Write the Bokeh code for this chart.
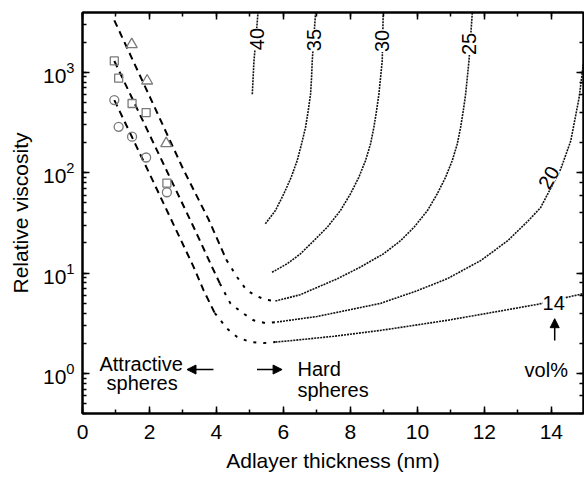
from bokeh.plotting import figure
from bokeh.models import (Range1d, LinearAxis, LogAxis, SingleIntervalTicker, LogTicker,
                          ColumnDataSource, LabelSet, Arrow, NormalHead)
from bokeh.core.properties import value
from bokeh.embed import file_html
from bokeh.resources import INLINE

FONT = "Liberation Sans"

# ---- attractive-sphere curves (dashed, then sparse dots) ----
hi_dash_x = [0.95, 2.0, 3.0, 3.77, 4.3]
hi_dash_y = [3300, 580, 110, 34, 13.5]
hi_dot_x = [4.3, 4.62, 4.91, 5.21, 5.46, 5.76]
hi_dot_y = [13.5, 9.1, 6.7, 5.9, 5.44, 5.27]

mid_dash_x = [0.95, 2.0, 3.32, 3.87, 4.1]
mid_dash_y = [1300, 240, 28.7, 11.5, 7.9]
mid_dot_x = [4.1, 4.42, 4.81, 5.11, 5.46, 5.81]
mid_dot_y = [7.9, 4.97, 3.95, 3.39, 3.18, 3.26]

lo_dash_x = [0.95, 2.0, 3.32, 3.62, 3.95]
lo_dash_y = [530, 98, 11.5, 6.7, 4.0]
lo_dot_x = [3.95, 4.32, 4.62, 5.01, 5.41, 5.76]
lo_dot_y = [4.0, 2.8, 2.31, 2.06, 2.01, 2.06]

# ---- hard-sphere iso-concentration curves (vol%) ----
c14_x = [5.76, 6.0, 7.5, 8.9, 10.89, 12.3, 13.59, 14.49, 15.0]
c14_y = [2.06, 2.09, 2.35, 2.69, 3.39, 4.1, 4.89, 5.77, 6.3]
c20_x = [5.81, 7.0, 8.9, 10.0, 10.89, 11.9, 12.7, 13.3, 13.68, 14.28, 14.58, 14.83, 14.96]
c20_y = [3.26, 3.7, 5.0, 6.7, 8.8, 13.4, 21.1, 33, 45, 109, 208, 562, 1250]
c25_x = [5.76, 6.5, 7.61, 8.30, 8.99, 9.50, 9.9, 10.30, 10.59, 10.84, 11.04, 11.19, 11.29,
         11.37, 11.44, 11.49, 11.54, 11.64]
c25_y = [5.27, 6.1, 8.8, 11.5, 15.6, 21.1, 28.7, 42, 61.5, 90, 132, 193, 283,
         414, 607, 888, 1300, 3945]
c30_x = [5.66, 6.11, 6.51, 6.91, 7.31, 7.70, 8.0, 8.25, 8.45, 8.60, 8.70, 8.78, 8.85, 8.95, 8.98]
c30_y = [10.2, 12.4, 15.6, 21.1, 28.7, 42, 61.5, 90, 132, 193, 283, 414, 607, 1300, 3945]
c35_x = [5.46, 5.76, 6.01, 6.23, 6.41, 6.54, 6.66, 6.74, 6.81, 6.84, 6.86, 6.96]
c35_y = [31, 42, 61.5, 90, 132, 193, 283, 414, 607, 888, 1300, 3945]
c40_x = [5.07, 5.12, 5.17, 5.24]
c40_y = [605, 1300, 2000, 3945]

# ---- measured points ----
tri_x = [1.47, 1.93, 2.50]
tri_y = [1900, 824, 196]
sq_x = [0.95, 1.08, 1.48, 1.90, 2.52]
sq_y = [1300, 876, 490, 398, 79]
circ_x = [0.95, 1.08, 1.48, 1.90, 2.52]
circ_y = [530, 287, 229, 142, 64]

# ---- curve labels ----
lab_text = ["40", "35", "30", "25", "20", "14"]
lab_x = [5.21, 6.90, 8.95, 11.54, 13.92, 14.07]
lab_y = [2150, 2100, 2056, 1920, 89.5, 5.06]
lab_angle = [90, 90, 90, 90, 60, 0]

# ---- annotations ----
ann_text = ["Attractive", "spheres"]
ann_x = [1.75, 1.78]
ann_y = [1.257, 0.796]
ann2_text = ["Hard", "spheres", "vol%"]
ann2_x = [6.42, 6.42, 13.2]
ann2_y = [1.12, 0.682, 1.096]

arr_x0 = [3.91, 5.21, 14.1]
arr_x1 = [3.12, 5.96, 14.1]
arr_y0 = [1.096, 1.096, 2.14]
arr_y1 = [1.096, 1.096, 3.52]

p = figure(width=584, height=479, x_range=Range1d(0, 14.96), y_range=Range1d(0.4, 3950),
           y_axis_type="log", output_backend="svg", toolbar_location=None,
           min_border_left=82, min_border_right=1, min_border_top=12, min_border_bottom=66,
           background_fill_color="white", border_fill_color="white")
p.xgrid.visible = False
p.ygrid.visible = False
p.outline_line_color = "black"
p.outline_line_width = 2

def style_axis(ax, labels=True):
    ax.axis_line_width = 2
    ax.axis_line_color = "black"
    ax.major_tick_in = 7
    ax.major_tick_out = 0
    ax.minor_tick_in = 4
    ax.minor_tick_out = 0
    ax.major_tick_line_width = 1.5
    ax.minor_tick_line_width = 1.5
    ax.major_tick_line_color = "black"
    ax.minor_tick_line_color = "black"
    if labels:
        ax.major_label_text_font = FONT
        ax.major_label_text_font_size = "21px"
        ax.major_label_text_color = "black"
        ax.axis_label_text_font = FONT
        ax.axis_label_text_font_size = "21px"
        ax.axis_label_text_font_style = "normal"
        ax.axis_label_text_color = "black"
    else:
        ax.major_label_text_font_size = "1px"
        ax.major_label_text_color = None
        ax.major_label_standoff = 0
        ax.axis_label = None

xt = SingleIntervalTicker(interval=2, num_minor_ticks=2)
xa = p.xaxis[0]
xa.ticker = xt
xa.axis_label = "Adlayer thickness (nm)"
style_axis(xa)
xa.major_label_standoff = 11
xa.axis_label_standoff = 7

ya = p.yaxis[0]
ya.axis_label = "Relative viscosity"
style_axis(ya)
ya.major_label_standoff = 8
ya.axis_label_standoff = 8

top = LinearAxis(ticker=SingleIntervalTicker(interval=2, num_minor_ticks=2))
style_axis(top, labels=False)
p.add_layout(top, "above")
right = LogAxis(ticker=LogTicker())
style_axis(right, labels=False)
p.add_layout(right, "right")

# dashed attractive-sphere fits
for xs, ys in [(hi_dash_x, hi_dash_y), (mid_dash_x, mid_dash_y), (lo_dash_x, lo_dash_y)]:
    p.line(xs, ys, line_color="black", line_width=2, line_dash="7 5")
for xs, ys in [(hi_dot_x, hi_dot_y), (mid_dot_x, mid_dot_y), (lo_dot_x, lo_dot_y)]:
    p.line(xs, ys, line_color="black", line_width=2, line_dash="3 7")

for xs, ys in [(c14_x, c14_y), (c20_x, c20_y), (c25_x, c25_y), (c30_x, c30_y),
               (c35_x, c35_y), (c40_x, c40_y)]:
    p.line(xs, ys, line_color="#111111", line_width=1.6, line_dash="2 1")

grey = "#7a7a7a"
p.scatter(tri_x, tri_y, marker="triangle", size=11, line_color=grey, fill_alpha=0, line_width=1.3)
p.scatter(sq_x, sq_y, marker="square", size=8, line_color=grey, fill_alpha=0, line_width=1.3)
p.scatter(circ_x, circ_y, marker="circle", size=9, line_color=grey, fill_alpha=0, line_width=1.3)

lab_src = ColumnDataSource(dict(x=lab_x, y=lab_y, text=lab_text, angle=lab_angle))
p.add_layout(LabelSet(x="x", y="y", text="text", angle="angle", angle_units="deg", source=lab_src,
                      text_align="center", text_baseline="middle", text_font=value(FONT),
                      text_font_size="20px", text_color="black",
                      background_fill_color="white"))

p.text(ann_x, ann_y, text=ann_text, text_align="center", text_baseline="alphabetic",
       text_font=value(FONT), text_font_size="20px", text_color="black")
p.text(ann2_x, ann2_y, text=ann2_text, text_align="left", text_baseline="alphabetic",
       text_font=value(FONT), text_font_size="20px", text_color="black")

arr_src = ColumnDataSource(dict(x0=arr_x0, y0=arr_y0, x1=arr_x1, y1=arr_y1))
p.add_layout(Arrow(x_start="x0", y_start="y0", x_end="x1", y_end="y1", source=arr_src,
                   line_width=1.5, line_color="black",
                   end=NormalHead(size=9, fill_color="black", line_color="black")))

open("out.html", "w").write(file_html(p, INLINE))
